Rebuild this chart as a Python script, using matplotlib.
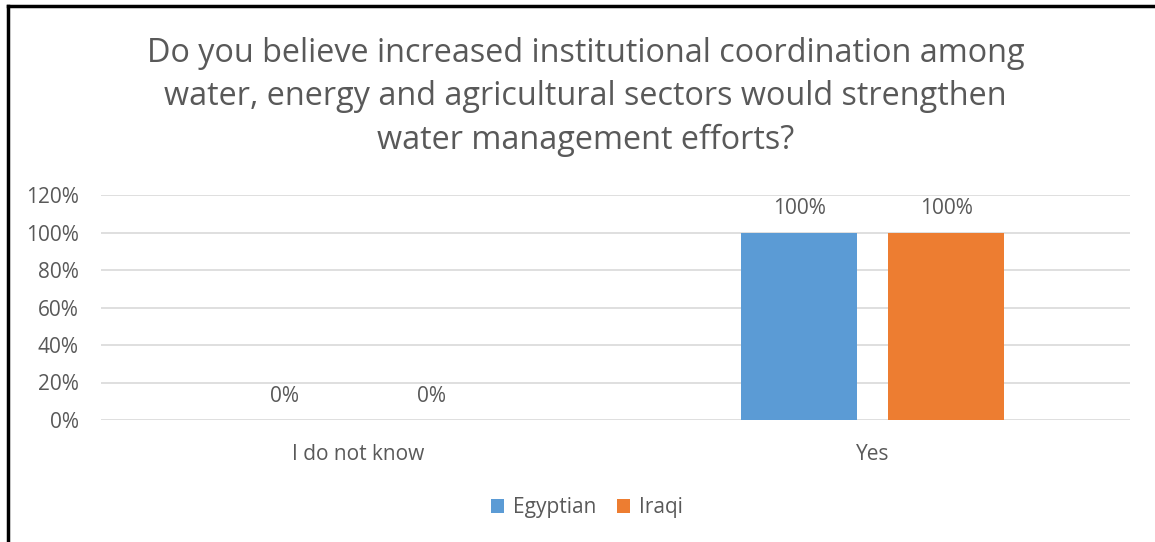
import numpy as np
import matplotlib.pyplot as plt
from matplotlib.lines import Line2D
from matplotlib.ticker import PercentFormatter

categories = ["I do not know", "Yes"]
egyptian = [0, 100]
iraqi = [0, 100]
yticks = [0, 20, 40, 60, 80, 100, 120]

blue = "#5B9BD5"
orange = "#ED7D31"
grey = "#595959"

plt.rcParams["font.family"] = ["Open Sans", "DejaVu Sans"]

fig = plt.figure(figsize=(11.55, 5.42), dpi=100)
ax = fig.add_axes([101 / 1155, 1 - 420 / 542, 1029 / 1155, 225 / 542])

x = np.arange(len(categories))
w = 0.2255
off = (w + 0.06) / 2
b1 = ax.bar(x - off, egyptian, w, color=blue, label="Egyptian", zorder=3)
b2 = ax.bar(x + off, iraqi, w, color=orange, label="Iraqi", zorder=3)

# value labels above each bar
for bars, vals in ((b1, egyptian), (b2, iraqi)):
    for r, v in zip(bars, vals):
        ax.text(r.get_x() + r.get_width() / 2, v + 12.8, f"{v}%", ha="center",
                va="center", fontsize=15, color=grey)

ax.set_xlim(-0.5, 1.5)
ax.set_ylim(0, 120)
ax.set_yticks(yticks)
ax.yaxis.set_major_formatter(PercentFormatter(decimals=0))
ax.set_xticks(x)
ax.set_xticklabels(categories)
ax.tick_params(axis="both", length=0, labelsize=15, labelcolor=grey)
ax.tick_params(axis="y", pad=16)
ax.tick_params(axis="x", pad=17)
ax.grid(axis="y", color="#D9D9D9", linewidth=1.2, zorder=0)
for s in ax.spines.values():
    s.set_visible(False)

fig.text(0.507, 1 - 97 / 542, "Do you believe increased institutional coordination among\n"
         "water, energy and agricultural sectors would strengthen\n"
         "water management efforts?", ha="center", va="center",
         fontsize=23.3, color=grey, linespacing=1.42)

fig.legend(handles=[b1, b2], loc="center", bbox_to_anchor=(0.508, 1 - 508 / 542),
           ncol=2, frameon=False, fontsize=15, labelcolor=grey,
           handlelength=0.65, handleheight=0.65, handletextpad=0.4, columnspacing=1.0)

# thin black frame along the top and left edges
fig.add_artist(Line2D([7.5 / 1155, 7.5 / 1155], [0, 1 - 5.5 / 542], color="black",
                      linewidth=2.5, transform=fig.transFigure))
fig.add_artist(Line2D([7.5 / 1155, 1], [1 - 5.5 / 542, 1 - 5.5 / 542], color="black",
                      linewidth=2.5, transform=fig.transFigure))

fig.savefig("out.png", dpi=100)
